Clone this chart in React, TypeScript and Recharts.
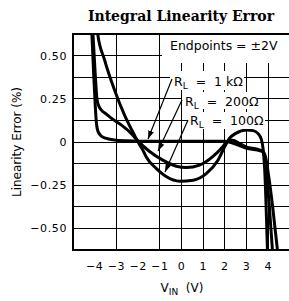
import { LineChart, Line, XAxis, YAxis, CartesianGrid, ReferenceArea } from "recharts";

const xTicks = [-4, -3, -2, -1, 0, 1, 2, 3, 4];
const yTicks = [-0.5, -0.375, -0.25, -0.125, 0, 0.125, 0.25, 0.375, 0.5];
const yTickLabels: Record<string, string> = {
  "0.5": "0.50",
  "0.25": "0.25",
  "0": "0",
  "-0.25": "−0.25",
  "-0.5": "−0.50",
};

// R_L = 1 kΩ
const r1kX = [-4.2, -4.13, -4.05, -3.97, -3.92, -3.86, -3.7, -3.5, -3.1, -2.5, -2.0, -1.0, 0, 1.0, 2.0, 2.45, 3.0, 3.5, 3.75, 3.88, 4.02, 4.2, 4.42, 4.5];
const r1kY = [0.85, 0.625, 0.4, 0.2, 0.11, 0.065, 0.035, 0.022, 0.012, 0.007, 0.005, 0.005, 0.005, 0.005, 0.004, -0.01, -0.037, -0.047, -0.056, -0.09, -0.2, -0.375, -0.625, -0.72];

// R_L = 200 Ω
const r200X = [-4.15, -4.08, -3.98, -3.89, -3.8, -3.7, -3.45, -3.24, -2.78, -2.32, -2.0, -1.47, -0.86, -0.24, 0.22, 0.83, 1.44, 1.9, 2.1, 2.35, 2.7, 3.0, 3.5, 3.75, 3.85, 3.93, 4.05, 4.19, 4.25];
const r200Y = [0.8, 0.625, 0.4, 0.244, 0.205, 0.186, 0.16, 0.138, 0.099, 0.05, 0.005, -0.055, -0.105, -0.14, -0.148, -0.134, -0.085, -0.027, 0.003, 0.01, -0.01, -0.03, -0.042, -0.055, -0.1, -0.2, -0.375, -0.625, -0.72];

// R_L = 100 Ω
const r100X = [-3.95, -3.86, -3.55, -3.09, -2.63, -2.17, -2.0, -1.78, -1.63, -1.17, -0.71, -0.08, 0.54, 1.14, 1.68, 2.0, 2.2, 2.5, 3.0, 3.3, 3.52, 3.68, 3.76, 3.83, 3.9, 3.96, 4.0];
const r100Y = [0.8, 0.625, 0.477, 0.302, 0.157, 0.04, 0.0, -0.047, -0.085, -0.153, -0.2, -0.227, -0.221, -0.183, -0.105, -0.025, 0.02, 0.05, 0.07, 0.066, 0.05, 0.015, -0.04, -0.15, -0.375, -0.625, -0.75];

const toPoints = (xs: number[], ys: number[]) => xs.map((x, i) => ({ x, y: ys[i] }));

const r1k = toPoints(r1kX, r1kY);
const r200 = toPoints(r200X, r200Y);
const r100 = toPoints(r100X, r100Y);

const tickFont = { fontFamily: "DejaVu Sans", fontSize: 11, fill: "#000", letterSpacing: 0.6 };
const noteFont = { fontFamily: "DejaVu Sans", fontSize: 12.5, fill: "#000" };

function RLabel({ x, y, value }: { x: number; y: number; value: string }) {
  return (
    <text x={x} y={y} style={{ ...noteFont, whiteSpace: "pre" }}>
      R
      <tspan fontSize={9} dy={3}>L</tspan>
      <tspan dy={-3}>{"  =  " + value}</tspan>
    </text>
  );
}

export default function App() {
  return (
    <div style={{ position: "absolute", left: 0, top: 0, width: 289, height: 301, overflow: "hidden", background: "#fff" }}>
      <LineChart width={300} height={301} margin={{ top: 34, right: 10, bottom: 21, left: 0 }}>
        <CartesianGrid stroke="#000" strokeWidth={1} shapeRendering="crispEdges" />
        <XAxis
          type="number"
          dataKey="x"
          domain={[-5, 5]}
          allowDataOverflow
          ticks={xTicks}
          tickFormatter={(v: number) => (v < 0 ? "−" + Math.abs(v) : String(v))}
          tick={tickFont}
          tickLine={false}
          axisLine={false}
          tickSize={0}
          tickMargin={12}
          height={30}
        />
        <YAxis
          type="number"
          domain={[-0.625, 0.625]}
          allowDataOverflow
          ticks={yTicks}
          tickFormatter={(v: number) => yTickLabels[String(v)] ?? ""}
          tick={tickFont}
          tickLine={false}
          axisLine={false}
          tickSize={0}
          tickMargin={6}
          width={73}
        />
        <Line data={r1k} dataKey="y" type="monotone" stroke="#000" strokeWidth={3} dot={false} isAnimationActive={false} />
        <Line data={r200} dataKey="y" type="monotone" stroke="#000" strokeWidth={3} dot={false} isAnimationActive={false} />
        <Line data={r100} dataKey="y" type="monotone" stroke="#000" strokeWidth={3} dot={false} isAnimationActive={false} />
        <ReferenceArea x1={-5} x2={5} y1={-0.625} y2={0.625} fill="none" fillOpacity={0} stroke="#000" strokeWidth={2} ifOverflow="visible" />
      </LineChart>
      <svg width={289} height={301} style={{ position: "absolute", left: 0, top: 0, pointerEvents: "none" }}>
        <defs>
          <marker id="ah" viewBox="0 0 10 10" refX={10} refY={5} markerWidth={7} markerHeight={7} orient="auto">
            <path d="M0,1.5 L10,5 L0,8.5 z" fill="#000" />
          </marker>
        </defs>
        <text x={181} y={21} textAnchor="middle" fontFamily="DejaVu Serif" fontWeight="bold" fontSize={14} fill="#000">
          Integral Linearity Error
        </text>
        <rect x={162} y={35} width={128} height={28} fill="#fff" />
        <text x={170} y={50} style={noteFont}>Endpoints = ±2V</text>

        <rect x={170} y={71} width={74} height={19} fill="#fff" />
        <RLabel x={174} y={86} value="1 kΩ" />
        <rect x={182} y={92} width={75} height={17} fill="#fff" />
        <RLabel x={185} y={106} value="200Ω" />
        <rect x={188} y={112} width={77} height={17} fill="#fff" />
        <RLabel x={190} y={125} value="100Ω" />

        <line x1={172} y1={79} x2={148} y2={139} stroke="#000" strokeWidth={1.2} markerEnd="url(#ah)" />
        <line x1={182} y1={100} x2={158} y2={151} stroke="#000" strokeWidth={1.2} markerEnd="url(#ah)" />
        <line x1={188} y1={120} x2={165} y2={172} stroke="#000" strokeWidth={1.2} markerEnd="url(#ah)" />

        <text
          x={17}
          y={142}
          transform="rotate(-90 17 142)"
          textAnchor="middle"
          dominantBaseline="middle"
          fontFamily="DejaVu Sans"
          fontSize={12}
          fill="#000"
        >
          Linearity Error (%)
        </text>
        <text x={182} y={292} textAnchor="middle" fontFamily="DejaVu Sans" fontSize={12} fill="#000" style={{ whiteSpace: "pre" }}>
          V<tspan fontSize={9} dy={3}>IN</tspan>
          <tspan dy={-3}>{"  (V)"}</tspan>
        </text>
      </svg>
    </div>
  );
}
